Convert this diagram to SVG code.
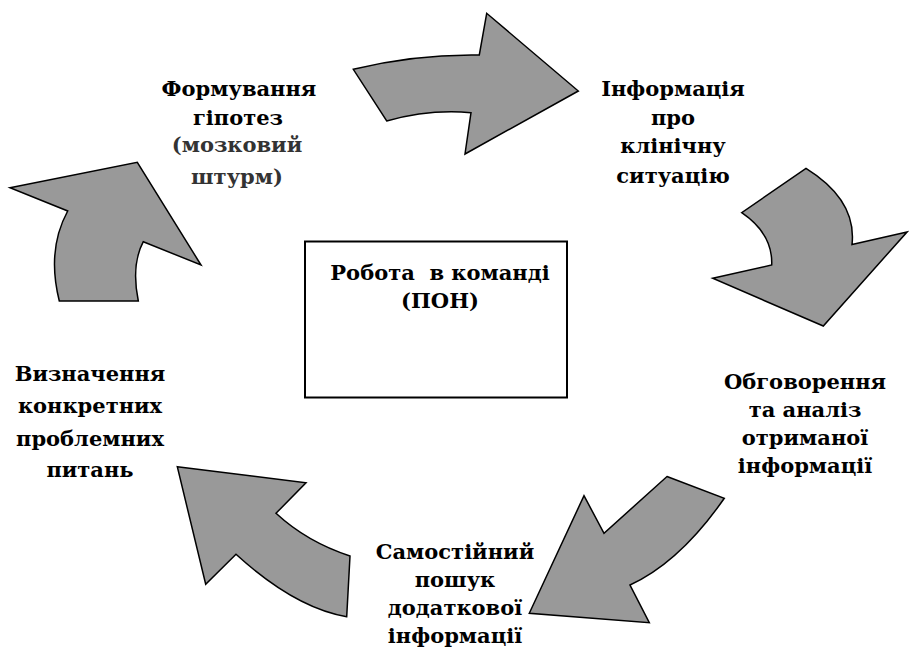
<svg xmlns="http://www.w3.org/2000/svg" width="909" height="657" viewBox="0 0 909 657">
<style>
.arr{fill:#999999;stroke:#000;stroke-width:1.5;stroke-linejoin:miter}
.t{font-family:'DejaVu Serif','Liberation Serif',serif;font-weight:700;font-size:21px;fill:#000;text-anchor:middle}
.g{fill:#333}
</style>
<rect width="909" height="657" fill="#fff"/>
<g id="connectors">
<path class="arr" d="M353.3,69.3 Q415,54 479.3,55 L486.7,13.3 L578.3,91 L465,154 L471,112.7 Q429,109 386.7,121 Z"/>
<path class="arr" d="M806,168.3 Q857,200 852,244.5 L907,232 L823.3,326 L712.7,278.3 L771.7,265 Q773,234 741.7,212.7 Z"/>
<path class="arr" d="M667,476.5 L724.3,498.3 Q680,562 630,585 L649.3,622.7 L529.3,613.3 L584,495.7 L604,533.3 Q624.5,515 667,476.5 Z"/>
<path class="arr" d="M177.3,466.7 L306,482.7 L276,513.3 Q307,542 350,556 L346.7,616.7 Q295,608 236,554.3 L205.7,584.3 Z"/>
<path class="arr" d="M10,187.7 L137.3,162.3 L201,265 L143.3,241.7 Q131,265 138.3,301 L59.3,301 Q46.5,250 67.7,211 Z"/>
</g>
<g id="center">
<rect x="305" y="241.5" width="262" height="156" fill="#fff" stroke="#000" stroke-width="2"/>
<text class="t" x="440" y="280" font-size="22">Робота&#160; в команді</text>
<text class="t" x="440" y="308" font-size="22">(ПОН)</text>
</g>
<g id="n-hypothesis">
<text class="t" x="239" y="96">Формування</text>
<text class="t" x="238" y="125">гіпотез</text>
<text class="t g" x="237" y="152">(мозковий</text>
<text class="t g" x="237" y="184">штурм)</text>
</g>
<g id="n-info">
<text class="t" x="673" y="96">Інформація</text>
<text class="t" x="673" y="125">про</text>
<text class="t" x="673" y="153">клінічну</text>
<text class="t" x="673" y="183">ситуацію</text>
</g>
<g id="n-discussion">
<text class="t" x="805" y="389">Обговорення</text>
<text class="t" x="805" y="417">та аналіз</text>
<text class="t" x="805" y="445">отриманої</text>
<text class="t" x="805" y="473">інформації</text>
</g>
<g id="n-search">
<text class="t" x="455" y="559">Самостійний</text>
<text class="t" x="455" y="587">пошук</text>
<text class="t" x="455" y="615">додаткової</text>
<text class="t" x="455" y="643">інформації</text>
</g>
<g id="n-problems">
<text class="t" x="90" y="381">Визначення</text>
<text class="t" x="90" y="413">конкретних</text>
<text class="t" x="90" y="446">проблемних</text>
<text class="t" x="90" y="477">питань</text>
</g>
</svg>
